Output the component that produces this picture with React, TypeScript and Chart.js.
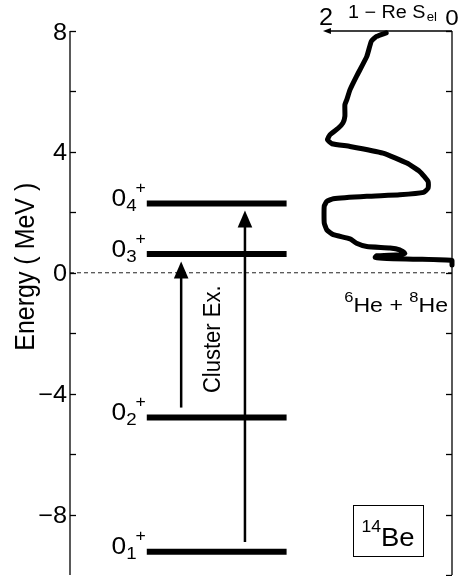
import React, { useEffect, useRef } from "react";
import { Chart, registerables } from "chart.js";
Chart.register(...registerables);

// ---- data ----
const levelSubscripts = ["1", "2", "3", "4"];
const levelEnergies = [-9.23, -4.79, 0.62, 2.29];
const arrowFromE = [-4.46, -8.91];
const arrowToE = [0.37, 2.06];
const arrowXPos = [29.1, 45.8];
const levelXStart = 20.1;
const levelXEnd = 56.7;
const yMajorTicks = [-8, -4, 0, 4, 8];
const yMinorTicks = [-6, -2, 2, 6];
const rightTicks = [-10, -8, -6, -4, -2, 0, 2, 4, 6, 8];
const curveReS = [
  1.02, 1.17, 1.25, 1.32, 1.48, 1.58, 1.63, 1.66, 1.66, 1.69, 1.76, 1.89, 1.93, 1.86,
  1.58, 1.07, 0.7, 0.5, 0.37, 0.37, 0.44, 0.81, 1.32, 1.84, 1.94, 1.98, 1.98, 1.94,
  1.84, 1.58, 1.48, 1.32, 0.96, 0.81, 0.73, 0.81, 1.17, 1.19, 1.01, 0.55, 0.0, 0.0,
];
const curveEnergy = [
  7.94, 7.82, 7.66, 7.16, 6.5, 6.06, 5.73, 5.56, 5.18, 4.96, 4.79, 4.57, 4.4, 4.27,
  4.18, 3.96, 3.63, 3.35, 3.02, 2.8, 2.66, 2.58, 2.53, 2.45, 2.36, 2.2, 1.65, 1.42,
  1.26, 1.12, 0.98, 0.87, 0.82, 0.76, 0.65, 0.6, 0.56, 0.51, 0.47, 0.45, 0.41, 0.26,
];
const topAxisTicks = [2, 0];

const FONT = "'Liberation Sans', Arial, Helvetica, sans-serif";
const SX = 1.1;

type Seg = { t: string; size: number; dy?: number; dx?: number };

function rich(
  ctx: CanvasRenderingContext2D,
  x: number,
  y: number,
  segs: Seg[],
  align: "left" | "right" | "center" = "left",
  rotate = false
) {
  ctx.save();
  ctx.translate(x, y);
  ctx.scale(SX, 1);
  if (rotate) ctx.rotate(-Math.PI / 2);
  let total = 0;
  for (const s of segs) {
    ctx.font = `${s.size}px ${FONT}`;
    total += ctx.measureText(s.t).width + (s.dx || 0);
  }
  let cx = align === "left" ? 0 : align === "right" ? -total : -total / 2;
  ctx.textBaseline = "alphabetic";
  ctx.textAlign = "left";
  ctx.fillStyle = "#000";
  for (const s of segs) {
    ctx.font = `${s.size}px ${FONT}`;
    cx += s.dx || 0;
    ctx.fillText(s.t, cx, s.dy || 0);
    cx += ctx.measureText(s.t).width;
  }
  ctx.restore();
}

const decorPlugin = {
  id: "decor",
  afterDatasetsDraw(chart: any) {
    const ctx: CanvasRenderingContext2D = chart.ctx;
    const y = chart.scales.y;
    const x = chart.scales.x;
    const x2 = chart.scales.x2;
    const area = chart.chartArea;
    ctx.save();
    ctx.strokeStyle = "#000";
    ctx.fillStyle = "#000";
    ctx.lineWidth = 1.3;
    // left axis
    ctx.beginPath();
    ctx.moveTo(area.left, area.top);
    ctx.lineTo(area.left, area.bottom);
    ctx.stroke();
    for (const t of [...yMajorTicks, ...yMinorTicks]) {
      const py = Math.round(y.getPixelForValue(t)) + 0.5;
      ctx.beginPath();
      ctx.moveTo(area.left, py);
      ctx.lineTo(area.left + 6, py);
      ctx.stroke();
    }
    for (const t of yMajorTicks) {
      const py = y.getPixelForValue(t);
      const label = t < 0 ? "\u2212" + Math.abs(t) : String(t);
      rich(ctx, area.left - 3, py + 8.5, [{ t: label, size: 23 }], "right");
    }
    // right axis
    ctx.beginPath();
    ctx.moveTo(area.right, area.top);
    ctx.lineTo(area.right, area.bottom);
    ctx.stroke();
    for (const t of rightTicks) {
      const py = Math.round(y.getPixelForValue(t)) + 0.5;
      ctx.beginPath();
      ctx.moveTo(area.right, py);
      ctx.lineTo(area.right - 6, py);
      ctx.stroke();
    }
    // top axis for curve
    const p0 = x2.getPixelForValue(topAxisTicks[1]);
    const p2 = x2.getPixelForValue(topAxisTicks[0]);
    ctx.beginPath();
    ctx.moveTo(p0, area.top);
    ctx.lineTo(p2 + 6, area.top);
    ctx.stroke();
    ctx.beginPath();
    ctx.moveTo(p2, area.top);
    ctx.lineTo(p2 + 8, area.top - 3);
    ctx.lineTo(p2 + 8, area.top + 3);
    ctx.closePath();
    ctx.fill();
    rich(ctx, p2 + 3, area.top - 6, [{ t: "2", size: 23 }], "center");
    rich(ctx, p0, area.top - 6, [{ t: "0", size: 22 }], "center");
    rich(ctx, p2 + 25, area.top - 13, [
      { t: "1 \u2212 Re S", size: 18 },
      { t: "el", size: 12, dy: 3, dx: 1 },
    ]);
    // arrowheads
    for (let i = 0; i < arrowToE.length; i++) {
      const ax = x.getPixelForValue(arrowXPos[i]);
      const ty = y.getPixelForValue(arrowToE[i]);
      ctx.beginPath();
      ctx.moveTo(ax, ty);
      ctx.lineTo(ax - 7.3, ty + 17);
      ctx.lineTo(ax + 7.3, ty + 17);
      ctx.closePath();
      ctx.fill();
    }
    // level labels
    const lx = x.getPixelForValue(levelXStart);
    for (let i = 0; i < levelEnergies.length; i++) {
      const ly = y.getPixelForValue(levelEnergies[i]);
      rich(ctx, lx - 1, ly + 2.5, [
        { t: "0", size: 24 },
        { t: levelSubscripts[i], size: 17, dy: 5 },
        { t: "+", size: 16, dy: -13, dx: -1 },
      ], "right");
    }
    // Energy label
    rich(ctx, 34, y.getPixelForValue(0.2), [{ t: "Energy ( MeV )", size: 25 }], "center", true);
    // Cluster Ex.
    const cxp = (x.getPixelForValue(arrowXPos[0]) + x.getPixelForValue(arrowXPos[1])) / 2 - 1;
    rich(ctx, cxp + 8, y.getPixelForValue(-2.2), [{ t: "Cluster Ex.", size: 22 }], "center", true);
    // 6He + 8He
    rich(ctx, area.right - 4, y.getPixelForValue(-1.3), [
      { t: "6", size: 15, dy: -10 },
      { t: "He + ", size: 21 },
      { t: "8", size: 15, dy: -10 },
      { t: "He", size: 21 },
    ], "right");
    // 14Be box
    const bx0 = area.right - 99;
    const by0 = y.getPixelForValue(-7.68);
    ctx.lineWidth = 1;
    ctx.strokeRect(Math.round(bx0) + 0.5, Math.round(by0) + 0.5, 70, 51);
    rich(ctx, bx0 + 35, by0 + 41, [
      { t: "14", size: 16, dy: -14 },
      { t: "Be", size: 25 },
    ], "center");
    ctx.restore();
  },
};

export default function App() {
  const ref = useRef<HTMLCanvasElement | null>(null);
  useEffect(() => {
    if (!ref.current) return;
    const levelSets = levelEnergies.map((e) => ({
      data: [
        { x: levelXStart, y: e },
        { x: levelXEnd, y: e },
      ],
      showLine: true,
      borderColor: "#000",
      borderWidth: 6,
      borderCapStyle: "butt" as const,
      pointRadius: 0,
      xAxisID: "x",
      clip: false as any,
    }));
    const arrowSets = arrowToE.map((e, i) => ({
      data: [
        { x: arrowXPos[i], y: arrowFromE[i] },
        { x: arrowXPos[i], y: e - 0.4 },
      ],
      showLine: true,
      borderColor: "#000",
      borderWidth: 2.5,
      pointRadius: 0,
      xAxisID: "x",
    }));
    const curveSet = {
      data: curveReS.map((v, i) => ({ x: v, y: curveEnergy[i] })),
      showLine: true,
      borderColor: "#000",
      borderWidth: 5,
      borderCapStyle: "round" as const,
      borderJoinStyle: "round" as const,
      tension: 0.15,
      pointRadius: 0,
      xAxisID: "x2",
      clip: false as any,
    };
    const zeroSet = {
      data: [
        { x: 0, y: 0 },
        { x: 100, y: 0 },
      ],
      showLine: true,
      borderColor: "#222",
      borderWidth: 1,
      borderDash: [4, 3],
      pointRadius: 0,
      xAxisID: "x",
    };
    const chart = new Chart(ref.current, {
      type: "scatter",
      data: { datasets: [curveSet, ...levelSets, ...arrowSets, zeroSet] as any },
      options: {
        responsive: false,
        animation: false,
        devicePixelRatio: 1,
        layout: { padding: { left: 70, right: 10, top: 31, bottom: 1 } },
        plugins: { legend: { display: false }, tooltip: { enabled: false } },
        events: [],
        scales: {
          x: { type: "linear", min: 0, max: 100, display: false },
          x2: { type: "linear", min: 0, max: 5.92, reverse: true, display: false },
          y: { type: "linear", min: -10, max: 8, display: false },
        },
      },
      plugins: [decorPlugin],
    });
    return () => chart.destroy();
  }, []);
  return (
    <div style={{ position: "absolute", left: 0, top: 0, width: 462, height: 576, background: "#fff" }}>
      <canvas ref={ref} width={462} height={576} style={{ display: "block" }} />
    </div>
  );
}
